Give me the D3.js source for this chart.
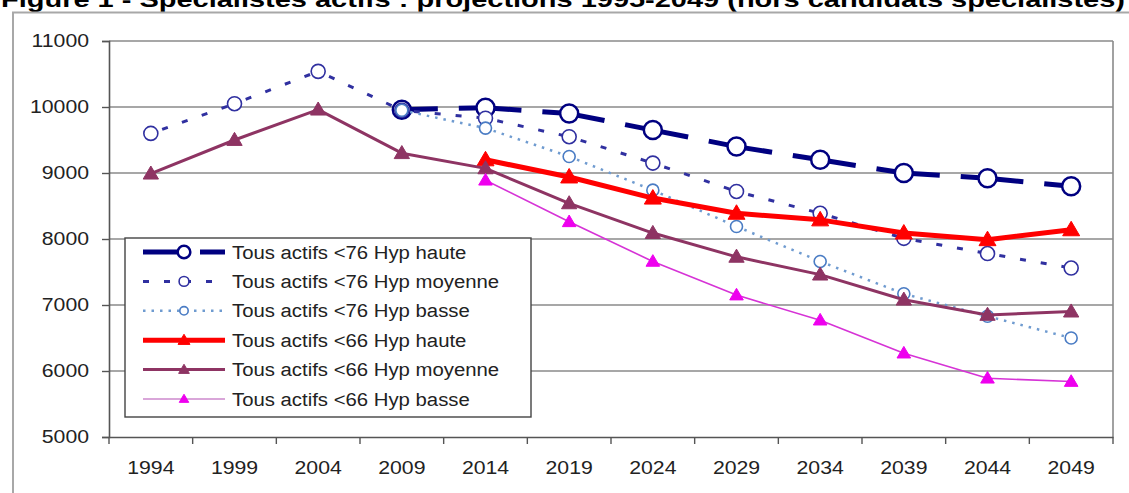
<!DOCTYPE html>
<html>
<head>
<meta charset="utf-8">
<script src="https://cdn.jsdelivr.net/npm/d3@7"></script>
<style>
html,body{margin:0;padding:0;background:#fff;overflow:hidden;}
svg{display:block;font-family:"Liberation Sans",Arial,sans-serif;}
</style>
</head>
<body>
<svg id="chart" width="1129" height="493"></svg>
<script>
const titleText = "Figure 1 - Spécialistes actifs : projections 1995-2049 (hors candidats spécialistes)";
const years = ["1994","1999","2004","2009","2014","2019","2024","2029","2034","2039","2044","2049"];
const yTicks = [5000, 6000, 7000, 8000, 9000, 10000, 11000];
const seriesNames = [
  "Tous actifs <76  Hyp haute",
  "Tous actifs <76  Hyp moyenne",
  "Tous actifs <76  Hyp basse",
  "Tous actifs <66  Hyp haute",
  "Tous actifs <66  Hyp moyenne",
  "Tous actifs <66  Hyp basse"
];
const s76Haute   = [null, null, null, 9960, 9990, 9900, 9650, 9400, 9200, 9000, 8920, 8800];
const s76Moyenne = [9600, 10050, 10540, 9950, 9830, 9550, 9150, 8720, 8390, 8010, 7780, 7560];
const s76Basse   = [null, null, null, 9950, 9680, 9250, 8740, 8190, 7660, 7170, 6830, 6500];
const s66Haute   = [null, null, null, null, 9200, 8940, 8620, 8390, 8290, 8090, 7990, 8140];
const s66Moyenne = [8990, 9500, 9960, 9300, 9070, 8540, 8090, 7730, 7460, 7080, 6850, 6900];
const s66Basse   = [null, null, null, null, 8890, 8260, 7660, 7150, 6770, 6270, 5890, 5840];

const seriesValues = [s76Haute, s76Moyenne, s76Basse, s66Haute, s66Moyenne, s66Basse];
const styles = [
  {color:"#000080", width:5,   dash:"36,21", marker:"circle",   r:9,   mstroke:"#000080", mfill:"#fff", mw:2.5},
  {color:"#3030a0", width:3,   dash:"6,15",  marker:"circle",   r:7,   mstroke:"#3030a0", mfill:"#fff", mw:1.6},
  {color:"#6f9bd0", width:2.5, dash:"2.5,6", marker:"circle",   r:6,   mstroke:"#4a7cc4", mfill:"#fff", mw:1.6},
  {color:"#ff0000", width:5,   dash:null,    marker:"triangle", r:10,  mstroke:"#ff0000", mfill:"#ff0000", mw:1},
  {color:"#8e3463", width:3,   dash:null,    marker:"triangle", r:9,   mstroke:"#8e3463", mfill:"#8e3463", mw:1},
  {color:"#d633d6", width:1.6, dash:null,    marker:"triangle", r:8,   mstroke:"#ee00ee", mfill:"#ee00ee", mw:1}
];
const SX = 1.18;

const svg = d3.select("#chart");
const pLeft = 109, pRight = 1113, pTop = 41, pBottom = 437;
const x = d3.scaleBand().domain(years).range([pLeft, pRight]);
const y = d3.scaleLinear().domain([5000, 11000]).range([pBottom, pTop]);

// title (clipped at top)
svg.append("text").attr("x", 1).attr("y", 7)
  .attr("textLength", 1124).attr("lengthAdjust", "spacingAndGlyphs")
  .style("font-size", "22px").style("font-weight", "bold").attr("fill", "#000")
  .text(titleText);

// outer frame
svg.append("rect").attr("x", 13).attr("y", 12.5).attr("width", 1300).attr("height", 600)
  .attr("fill", "none").attr("stroke", "#a8a8a8").attr("stroke-width", 2);

// gridlines
svg.append("g").selectAll("line").data(yTicks.filter(d => d !== 5000)).join("line")
  .attr("x1", pLeft).attr("x2", pRight).attr("y1", d => y(d)).attr("y2", d => y(d))
  .attr("stroke", "#8a8a8a").attr("stroke-width", 1.6);
// right plot border
svg.append("line").attr("x1", pRight).attr("x2", pRight).attr("y1", pTop).attr("y2", pBottom)
  .attr("stroke", "#8a8a8a").attr("stroke-width", 1.6);

// y axis
const yAxis = svg.append("g").attr("transform", `translate(${pLeft},0)`)
  .call(d3.axisLeft(y).tickValues(yTicks).tickSize(7).tickFormat(d3.format("d")));
yAxis.select(".domain").attr("stroke", "#555").attr("stroke-width", 1.6);
yAxis.selectAll(".tick line").attr("stroke", "#555").attr("stroke-width", 1.4);
yAxis.selectAll(".tick text").attr("x", -20 / SX).attr("transform", `scale(${SX},1)`)
  .style("font-size", "18px").attr("fill", "#222");

// x axis
const xAxis = svg.append("g").attr("transform", `translate(0,${pBottom})`)
  .call(d3.axisBottom(x).tickSize(0).tickPadding(24));
xAxis.select(".domain").attr("stroke", "#555").attr("stroke-width", 1.6);
xAxis.selectAll(".tick text").attr("transform", `scale(${SX},1)`)
  .style("font-size", "18px").attr("fill", "#222");
const boundaries = years.map(d => x(d)).concat([pRight]);
xAxis.append("g").selectAll("line").data(boundaries).join("line")
  .attr("x1", d => d).attr("x2", d => d).attr("y1", 0).attr("y2", 7)
  .attr("stroke", "#555").attr("stroke-width", 1.4);

// markers
function drawMarker(g, st, cx, cy) {
  if (st.marker === "circle") {
    g.append("circle").attr("cx", cx).attr("cy", cy).attr("r", st.r)
      .attr("fill", st.mfill).attr("stroke", st.mstroke).attr("stroke-width", st.mw);
  } else {
    const r = st.r;
    g.append("path")
      .attr("d", `M${cx},${cy - r * 0.85} L${cx + r * 0.85},${cy + r * 0.6} L${cx - r * 0.85},${cy + r * 0.6} Z`)
      .attr("fill", st.mfill).attr("stroke", st.mstroke).attr("stroke-width", st.mw);
  }
}

// series
const cxOf = d => x(d) + x.bandwidth() / 2;
seriesValues.forEach((vals, i) => {
  const st = styles[i];
  const pts = years.map((yr, j) => ({yr, v: vals[j]})).filter(p => p.v !== null);
  const g = svg.append("g");
  if (st.dash) {
    // Excel restarts the dash pattern on each segment
    d3.pairs(pts).forEach(([a, b]) => {
      g.append("line").attr("x1", cxOf(a.yr)).attr("y1", y(a.v)).attr("x2", cxOf(b.yr)).attr("y2", y(b.v))
        .attr("stroke", st.color).attr("stroke-width", st.width).attr("stroke-dasharray", st.dash)
        .attr("stroke-dashoffset", i === 1 ? -12 : 0);
    });
  } else {
    const line = d3.line().x(p => cxOf(p.yr)).y(p => y(p.v));
    g.append("path").datum(pts).attr("d", line).attr("fill", "none")
      .attr("stroke", st.color).attr("stroke-width", st.width).attr("stroke-linejoin", "round");
  }
  pts.forEach(p => drawMarker(g, st, cxOf(p.yr), y(p.v)));
});

// legend
const lg = svg.append("g");
lg.append("rect").attr("x", 125).attr("y", 238).attr("width", 406).attr("height", 179)
  .attr("fill", "#fff").attr("stroke", "#444").attr("stroke-width", 1.4);
seriesNames.forEach((name, i) => {
  const st = styles[i];
  const cy = 252 + i * 29.4;
  lg.append("line").attr("x1", 143).attr("x2", 225).attr("y1", cy).attr("y2", cy)
    .attr("stroke", i === 5 ? "#cc88cc" : st.color).attr("stroke-width", st.width)
    .attr("stroke-dasharray", st.dash);
  drawMarker(lg, Object.assign({}, st, {r: st.r * 0.7}), 184, cy);
  lg.append("text").attr("transform", `translate(232,${cy + 6.5}) scale(1.13,1)`)
    .style("font-size", "18px").attr("fill", "#222").text(name);
});
</script>
</body>
</html>
